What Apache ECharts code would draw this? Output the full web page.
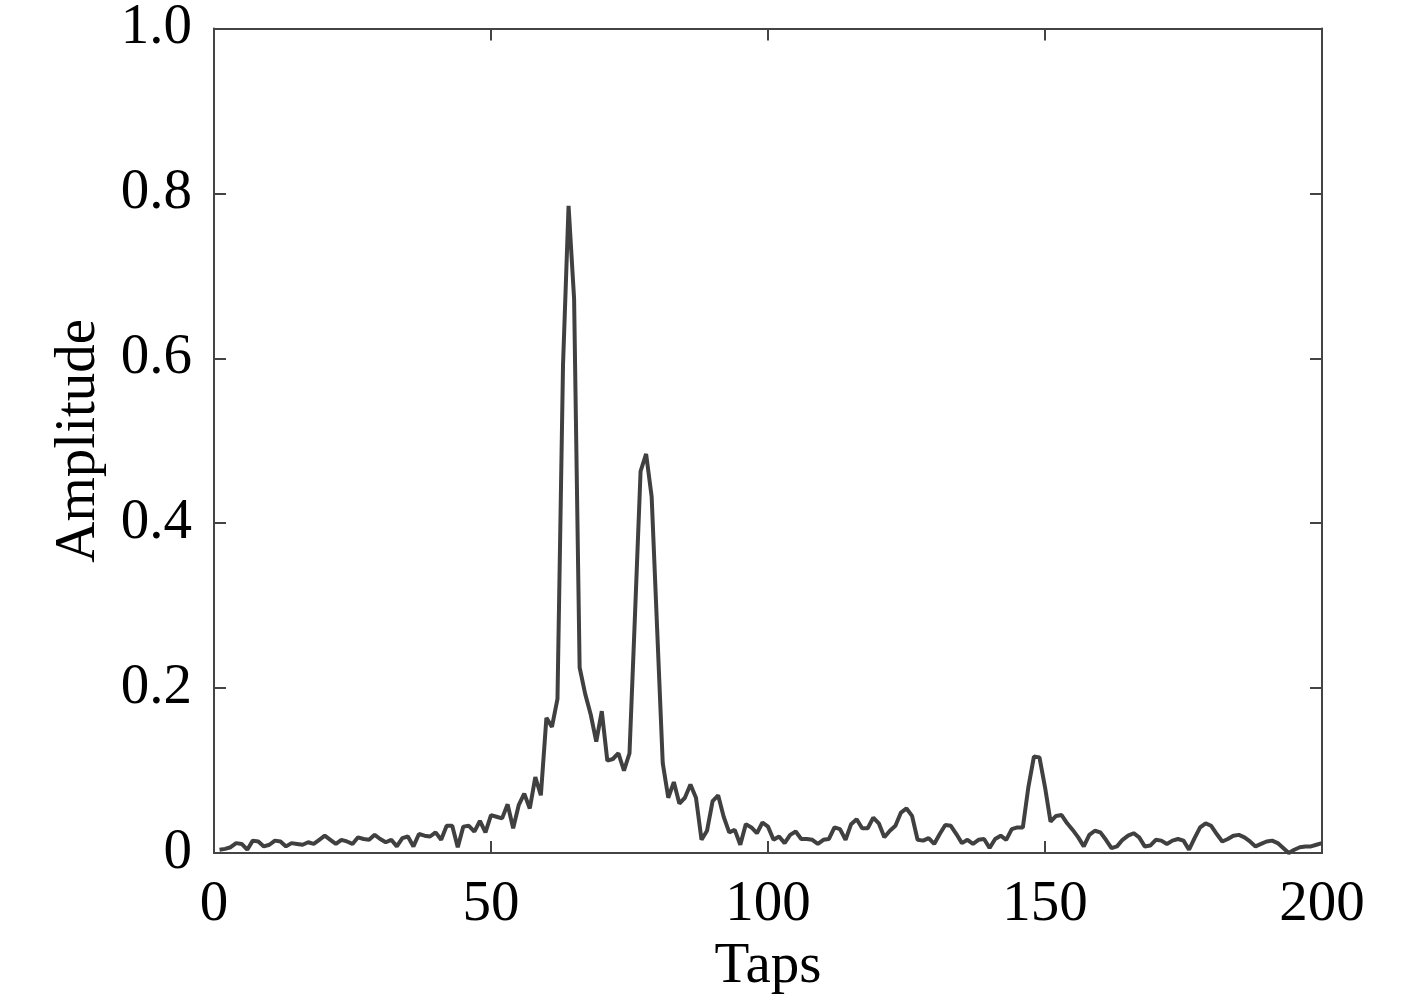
<!DOCTYPE html>
<html>
<head>
<meta charset="utf-8">
<title>Taps vs Amplitude</title>
<script src="https://cdn.jsdelivr.net/npm/echarts@6/dist/echarts.min.js"></script>
<style>
  html, body { margin: 0; padding: 0; background: #fff; }
  #chart { width: 1417px; height: 1006px; }
</style>
</head>
<body>
<div id="chart"></div>
<script>
// amplitude of each tap, taps 1..200
var amplitude = [
  0.004, 0.005, 0.007, 0.012, 0.011, 0.004, 0.015, 0.014, 0.008, 0.010,
  0.015, 0.014, 0.008, 0.012, 0.011, 0.010, 0.013, 0.011, 0.016, 0.021,
  0.016, 0.011, 0.016, 0.014, 0.011, 0.019, 0.017, 0.016, 0.022, 0.017,
  0.013, 0.016, 0.008, 0.018, 0.020, 0.008, 0.023, 0.021, 0.020, 0.025,
  0.016, 0.033, 0.033, 0.007, 0.032, 0.033, 0.026, 0.039, 0.025, 0.046,
  0.044, 0.042, 0.059, 0.030, 0.058, 0.072, 0.054, 0.092, 0.070, 0.164,
  0.153, 0.187, 0.592, 0.785, 0.672, 0.225, 0.193, 0.168, 0.135, 0.172,
  0.112, 0.114, 0.121, 0.100, 0.121, 0.290, 0.463, 0.484, 0.432, 0.270,
  0.109, 0.067, 0.086, 0.060, 0.067, 0.083, 0.067, 0.016, 0.027, 0.063,
  0.070, 0.044, 0.025, 0.028, 0.010, 0.035, 0.031, 0.024, 0.037, 0.032,
  0.016, 0.020, 0.012, 0.022, 0.026, 0.017, 0.017, 0.016, 0.011, 0.016,
  0.017, 0.031, 0.029, 0.016, 0.035, 0.041, 0.030, 0.030, 0.043, 0.036,
  0.019, 0.027, 0.033, 0.049, 0.054, 0.045, 0.016, 0.015, 0.018, 0.011,
  0.023, 0.034, 0.033, 0.023, 0.012, 0.016, 0.011, 0.016, 0.017, 0.006,
  0.017, 0.021, 0.016, 0.029, 0.031, 0.031, 0.080, 0.117, 0.116, 0.080,
  0.038, 0.045, 0.046, 0.036, 0.028, 0.019, 0.008, 0.022, 0.027, 0.025,
  0.016, 0.006, 0.008, 0.016, 0.021, 0.024, 0.019, 0.008, 0.009, 0.016,
  0.015, 0.011, 0.015, 0.017, 0.015, 0.004, 0.018, 0.031, 0.036, 0.033,
  0.023, 0.014, 0.017, 0.021, 0.022, 0.019, 0.014, 0.008, 0.011, 0.014,
  0.015, 0.012, 0.006, 0.000, 0.004, 0.007, 0.008, 0.008, 0.010, 0.012
];
var xTicks = [0, 50, 100, 150, 200];
var yTicks = [0, 0.2, 0.4, 0.6, 0.8, 1.0];

var seriesData = amplitude.map(function (v, i) { return [i + 1, v]; });

var font = 'Liberation Serif, Times New Roman, serif';
var frameColor = '#444';

function frameAxis(extra) {
  var base = {
    axisLine: { show: true, onZero: false, lineStyle: { color: frameColor, width: 2 } },
    axisTick: { show: true, inside: true, length: 12, lineStyle: { color: frameColor, width: 2 } },
    splitLine: { show: false },
    axisLabel: { show: false }
  };
  for (var k in extra) base[k] = extra[k];
  return base;
}

var chart = echarts.init(document.getElementById('chart'));
chart.setOption({
  animation: false,
  backgroundColor: '#fff',
  grid: { left: 214, right: 95, top: 28, bottom: 153, containLabel: false },
  xAxis: [
    frameAxis({
      type: 'value', position: 'bottom',
      min: xTicks[0], max: xTicks[xTicks.length - 1], interval: xTicks[1] - xTicks[0],
      name: 'Taps', nameLocation: 'middle', nameGap: 83,
      nameTextStyle: { fontFamily: font, fontSize: 57, color: '#000' },
      axisLabel: { show: true, margin: 24, fontFamily: font, fontSize: 57, color: '#000' }
    }),
    frameAxis({
      type: 'value', position: 'top',
      min: xTicks[0], max: xTicks[xTicks.length - 1], interval: xTicks[1] - xTicks[0]
    })
  ],
  yAxis: [
    frameAxis({
      type: 'value', position: 'left',
      min: yTicks[0], max: yTicks[yTicks.length - 1], interval: 0.2,
      name: 'Amplitude', nameLocation: 'middle', nameGap: 106, nameRotate: 90,
      nameTextStyle: { fontFamily: font, fontSize: 57, color: '#000' },
      axisLabel: {
        show: true, margin: 22, fontFamily: font, fontSize: 57, color: '#000',
        formatter: function (v) { return v === 0 ? '0' : v.toFixed(1); }
      }
    }),
    frameAxis({
      type: 'value', position: 'right',
      min: yTicks[0], max: yTicks[yTicks.length - 1], interval: 0.2
    })
  ],
  series: [{
    type: 'line',
    xAxisIndex: 0,
    yAxisIndex: 0,
    data: seriesData,
    showSymbol: false,
    lineStyle: { color: '#404040', width: 4 },
    silent: true
  }]
});
</script>
</body>
</html>
